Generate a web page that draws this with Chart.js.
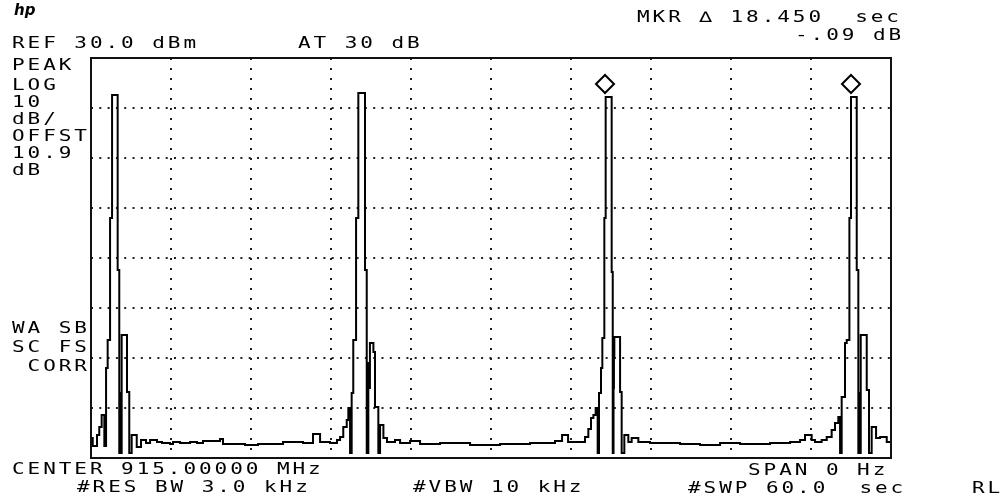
<!DOCTYPE html>
<html>
<head>
<meta charset="utf-8">
<script src="https://cdn.jsdelivr.net/npm/chart.js@4.4.1/dist/chart.umd.min.js"></script>
<style>
  body { margin: 0; background: #fff; }
  #wrap { position: relative; width: 1003px; height: 504px; overflow: hidden; }
  canvas { position: absolute; left: 0; top: 0; }
  .t {
    position: absolute;
    font-family: 'DejaVu Sans Mono', monospace;
    font-size: 15px;
    line-height: 15px;
    letter-spacing: 2.1px;
    transform: scaleX(1.4);
    transform-origin: 0 0;
    white-space: pre;
    color: #000;
  }
  .logo {
    position: absolute; left: 14px; top: 1px;
    font-family: 'DejaVu Sans', sans-serif; font-style: italic; font-weight: bold;
    font-size: 15px; color: #000;
  }
</style>
</head>
<body>
<div id="wrap">
  <canvas id="saChart" width="1003" height="504"></canvas>
  <div class="logo">hp</div>
  <div class="t" style="left:12px;top:36px">REF 30.0 dBm</div>
  <div class="t" style="left:298px;top:36px">AT 30 dB</div>
  <div class="t" style="left:637px;top:10px">MKR ∆ 18.450  sec</div>
  <div class="t" style="left:795px;top:28px">-.09 dB</div>
  <div class="t" style="left:12px;top:58px">PEAK</div>
  <div class="t" style="left:12px;top:78px">LOG</div>
  <div class="t" style="left:12px;top:95px">10</div>
  <div class="t" style="left:12px;top:112px">dB/</div>
  <div class="t" style="left:12px;top:129px">OFFST</div>
  <div class="t" style="left:12px;top:146px">10.9</div>
  <div class="t" style="left:12px;top:163px">dB</div>
  <div class="t" style="left:12px;top:321px">WA SB</div>
  <div class="t" style="left:12px;top:340px">SC FS</div>
  <div class="t" style="left:12px;top:359px"> CORR</div>
  <div class="t" style="left:12px;top:462px">CENTER 915.00000 MHz</div>
  <div class="t" style="left:77px;top:480px">#RES BW 3.0 kHz</div>
  <div class="t" style="left:413px;top:480px">#VBW 10 kHz</div>
  <div class="t" style="left:748px;top:463px">SPAN 0 Hz</div>
  <div class="t" style="left:688px;top:481px">#SWP 60.0  sec</div>
  <div class="t" style="left:972px;top:481px">RL</div>
</div>
<script>
// trace A, zero span sweep: time (sec) of each step and its level (dBm)
const traceTime = [
  0, 0.13, 0.45, 0.62, 0.8, 1.0, 1.13, 1.25, 1.43, 1.58, 2.0, 2.12, 2.2, 2.26, 2.3, 2.7, 2.87, 3.05, 3.43, 3.75, 4.13,
  4.43, 4.95, 5.33, 5.93, 6.15, 6.68, 7.43, 7.95, 8.4, 9.68, 9.9, 11.55, 12.53, 14.4, 15.9, 16.65, 17.18, 17.93, 18.45,
  18.68, 18.92, 19.18, 19.3, 19.43, 19.55, 19.67, 19.88, 20.05, 20.55, 20.68, 20.8, 20.86, 20.92, 21.18, 21.3, 21.55, 21.68, 21.93, 22.2,
  22.8, 23.18, 23.93, 24.68, 26.18, 28.43, 30.68, 32.93, 34.8, 35.33, 35.78, 36.3,
  37.05, 37.3, 37.5, 37.68, 37.85, 38.0, 38.1, 38.25, 38.35, 38.5, 38.6, 39.05, 39.13, 39.19, 39.22, 39.25, 39.68, 39.8, 40.0, 40.3, 40.55, 41.05,
  41.93, 44.18, 45.68, 47.18, 48.68, 50.93, 52.43,
  53.18, 53.55, 54.05, 54.3, 54.8, 55.18, 55.55, 55.8, 56.05, 56.18, 56.3, 56.55, 56.68, 56.88, 57.0, 57.43, 57.55, 57.62, 57.67, 57.73, 58.18, 58.35, 58.55, 58.88, 59.18, 59.68, 60
];
const traceDb = [
  -46, -47.6, -45.4, -43.8, -41.4, -47.6, -32, -26.4, -2, 22.6, -12.4, -49, -37, -49, -25.4, -36.8, -49, -45.4, -47.8, -46.4, -47,
  -46.4, -46.8, -47, -47.2, -46.8, -47, -46.8, -47, -46.6, -46.2, -47.2, -47.4, -47.2, -46.8, -47, -45.2, -46.8, -47, -46.4,
  -45.8, -43.8, -42.4, -40, -49, -37, -26.4, -2, 23, -12.4, -49, -31, -36, -27, -28.8, -39.8, -49, -43.4, -46, -46.8,
  -46.4, -47, -46.6, -47.2, -47, -47.4, -47.2, -47, -46.6, -45.4, -46.8, -46.8,
  -45.8, -44.2, -42, -41.4, -40, -49, -37, -32, -26, -2, 22.2, -12.8, -49, -36, -30, -25.8, -36.8, -49, -45.4, -46.8, -46, -46.8,
  -47, -47.2, -47.4, -47, -47.2, -47, -46.8,
  -46.4, -45.4, -46.4, -46.8, -46.4, -45.8, -44.4, -43, -41.8, -49, -37.8, -27, -26.4, -2, 22.2, -12.4, -49, -37, -49, -25.4, -36.4, -49, -43.8, -46, -45.8, -46.8, -46.8
];

// marker and delta marker (diamonds above the peaks)
const markerTime = [38.55, 57.0];
const markerDb = [24.8, 24.8];

// screen: 10 divisions of sweep time, 8 divisions of 10 dB from REF 30 dBm
const sweepSec = 60;
const refLevel = 30;
const dbPerDiv = 10;

const tracePts = traceTime.map((t, i) => ({ x: t, y: traceDb[i] }));
const markerPts = markerTime.map((t, i) => ({ x: t, y: markerDb[i] }));

// solid graticule frame
const framePlugin = {
  id: 'frame',
  afterDraw(chart) {
    const { ctx, chartArea: a } = chart;
    ctx.save();
    ctx.strokeStyle = '#111';
    ctx.lineWidth = 2;
    ctx.strokeRect(a.left, a.top, a.right - a.left, a.bottom - a.top);
    ctx.restore();
  }
};

const ctx = document.getElementById('saChart').getContext('2d');
const saChart = new Chart(ctx, {
  type: 'scatter',
  data: {
    datasets: [{
      label: 'TRACE A',
      data: tracePts,
      showLine: true,
      stepped: true,
      borderColor: '#000',
      borderWidth: 2,
      pointRadius: 0,
      fill: false
    }, {
      label: 'MKR',
      data: markerPts,
      showLine: false,
      pointStyle: 'rectRot',
      pointRadius: 9,
      borderColor: '#000',
      borderWidth: 2,
      backgroundColor: '#fff'
    }]
  },
  options: {
    responsive: false,
    animation: false,
    layout: { padding: { left: 91, top: 58, right: 112, bottom: 46 } },
    plugins: { legend: { display: false }, tooltip: { enabled: false } },
    scales: {
      x: {
        type: 'linear',
        min: 0,
        max: sweepSec,
        ticks: { display: false, stepSize: sweepSec / 10 },
        grid: { color: '#222', lineWidth: 2, drawTicks: false },
        border: { display: false, dash: [2, 8] }
      },
      y: {
        type: 'linear',
        min: refLevel - 8 * dbPerDiv,
        max: refLevel,
        ticks: { display: false, stepSize: dbPerDiv },
        grid: { color: '#222', lineWidth: 2, drawTicks: false },
        border: { display: false, dash: [2, 6.3] }
      }
    }
  },
  plugins: [framePlugin]
});
</script>
</body>
</html>
